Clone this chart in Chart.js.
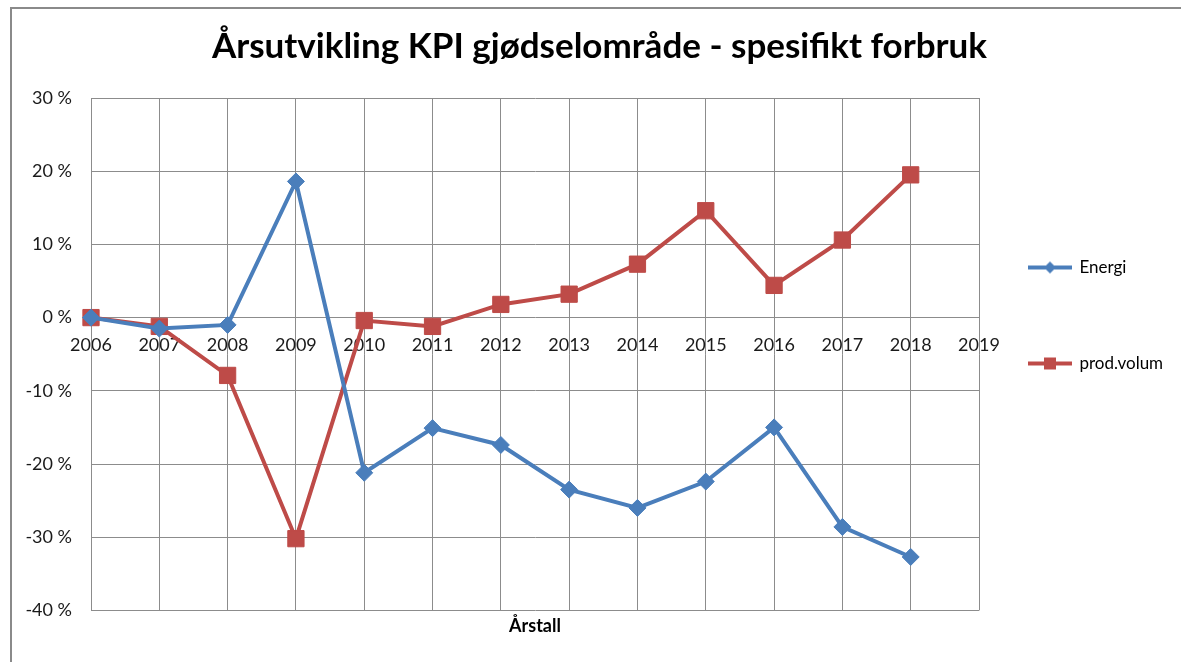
<!DOCTYPE html>
<html>
<head>
<meta charset="utf-8">
<script src="https://cdn.jsdelivr.net/npm/chart.js@4"></script>
<style>
  body { margin: 0; background: #fff; }
  .ramme { position: absolute; left: 10px; top: 7px; width: 1180px; height: 660px;
           border-left: 2px solid #8a8a8a; border-top: 2px solid #8a8a8a; }
  .wrap { position: absolute; left: 0; top: 0; width: 1181px; height: 662px; }
</style>
</head>
<body>
<div class="ramme"></div>
<div class="wrap"><canvas id="kpi" width="1181" height="662"></canvas></div>
<script>
const years = ['2006','2007','2008','2009','2010','2011','2012','2013','2014','2015','2016','2017','2018','2019'];
const energi = [0, -1.5, -1.0, 18.6, -21.2, -15.1, -17.4, -23.5, -26.0, -22.4, -15.0, -28.6, -32.7, null];
const prodVolum = [0, -1.2, -7.9, -30.2, -0.4, -1.2, 1.8, 3.2, 7.3, 14.6, 4.4, 10.6, 19.5, null];
const yTicks = [30, 20, 10, 0, -10, -20, -30, -40];

let blue = '#4a7ebb';
let red = '#be4b48';
let grid = '#8c8c8c';
let txt = '#1a1a1a';
let fam = 'Lato, "Noto Sans", sans-serif';

function legendIcon(color, shape){
  let c = document.createElement('canvas');
  c.width = 44; c.height = 18;
  let g = c.getContext('2d');
  g.strokeStyle = color; g.fillStyle = color; g.lineWidth = 4;
  g.beginPath(); g.moveTo(0, 9); g.lineTo(44, 9); g.stroke();
  g.beginPath();
  if (shape == 'diamond') {
    g.moveTo(22, 3); g.lineTo(28, 9); g.lineTo(22, 15); g.lineTo(16, 9);
  } else {
    g.rect(16, 3, 12, 12);
  }
  g.closePath(); g.fill();
  return c;
}
let icons = [legendIcon(blue, 'diamond'), legendIcon(red, 'square')];

// flytter legenden (og tittelen litt) dit Excel har dem, uten at plottet krymper
const legendShift = {
  id: 'legendShift',
  afterLayout(chart){
    let lg = chart.legend;
    lg.left = 1029 - 79;
    lg.top = 180;
    chart.titleBlock.left = 18;
  }
};

new Chart(document.getElementById('kpi'), {
  type: 'line',
  data: {
    labels: years,
    datasets: [{
      label: 'Energi',
      data: energi,
      borderColor: blue,
      backgroundColor: blue,
      borderWidth: 4,
      pointStyle: 'rectRot',
      pointRadius: 8.5,
      pointBorderWidth: 1,
      tension: 0
    }, {
      label: 'prod.volum',
      data: prodVolum,
      borderColor: red,
      backgroundColor: red,
      borderWidth: 4,
      pointStyle: 'rect',
      pointRadius: 11.5,
      pointBorderWidth: 1,
      tension: 0
    }]
  },
  options: {
    responsive: false,
    animation: false,
    layout: { padding: 0 },
    plugins: {
      title: {
        display: true,
        text: 'Årsutvikling KPI gjødselområde - spesifikt forbruk',
        color: '#000',
        font: { family: fam, size: 35, weight: 'bold', lineHeight: 1.2 },
        padding: { top: 26, bottom: 30 }
      },
      legend: {
        position: 'right',
        align: 'start',
        maxWidth: 202,
        labels: {
          usePointStyle: true,
          pointStyleWidth: 42,
          padding: 79,
          color: '#000',
          font: { family: fam, size: 17 },
          generateLabels(chart){
            let items = Chart.defaults.plugins.legend.labels.generateLabels(chart);
            items.forEach((it, i) => { it.pointStyle = icons[i]; });
            return items;
          }
        }
      },
      tooltip: { enabled: false }
    },
    scales: {
      x: {
        position: { y: 0 },
        offset: false,
        grid: { color: grid, lineWidth: 1, drawTicks: false },
        border: { display: false },
        ticks: { color: txt, padding: 17, maxRotation: 0, autoSkip: false,
                 font: { family: fam, size: 18 } }
      },
      x2: {
        type: 'category',
        position: 'bottom',
        labels: years,
        offset: false,
        grid: { display: false, drawTicks: false },
        border: { display: false },
        ticks: { display: false },
        title: {
          display: true,
          text: 'Årstall',
          color: '#000',
          font: { family: fam, size: 18, weight: 'bold', lineHeight: 1.2 },
          padding: { top: 5, bottom: 25 }
        }
      },
      y: {
        min: -40,
        max: 30,
        afterFit(scale){ scale.width = 91; },
        afterBuildTicks(scale){ scale.ticks = yTicks.map(v => ({ value: v })); },
        grid: { color: grid, lineWidth: 1, drawTicks: false },
        border: { color: grid, width: 1 },
        ticks: {
          color: txt,
          padding: 19,
          font: { family: fam, size: 18 },
          callback: (v) => v + ' %'
        }
      }
    }
  },
  plugins: [legendShift]
});
</script>
</body>
</html>
